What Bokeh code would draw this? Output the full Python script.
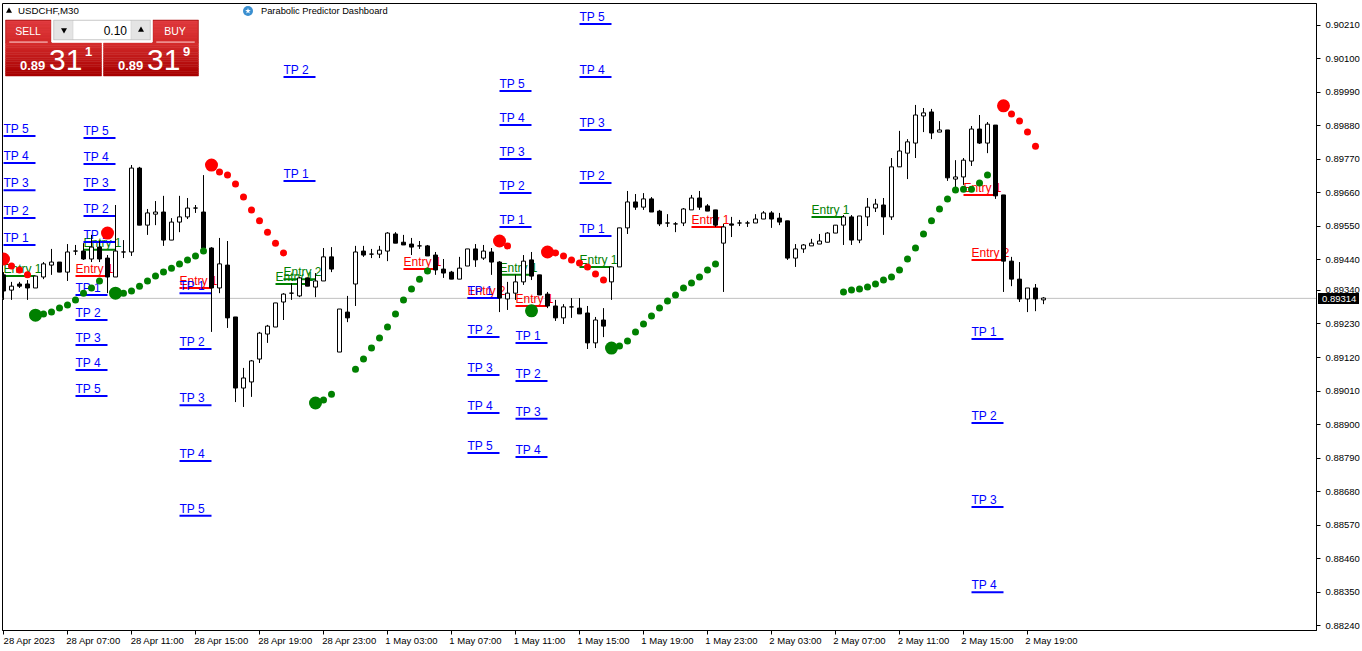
from bokeh.plotting import figure
from bokeh.layouts import column
from bokeh.models import FixedTicker, PrintfTickFormatter, Span, ColumnDataSource, Div
from bokeh.core.properties import value
from bokeh.embed import file_html
from bokeh.resources import INLINE

# Prices are quoted in points (1e-5)
opens = [89391,89341,89361,89361,89348,89384,89423,89433,89400,89469,89469,89443,89482,89446,89384,89466,89466,89741,89554,89590,
89597,89505,89564,89581,89610,89597,89479,89348,89423,89253,89020,89040,89115,89197,89220,89302,89331,89322,89381,89351,
89371,89450,89138,89269,89361,89469,89459,89459,89469,89525,89498,89492,89486,89486,89456,89410,89400,89377,89420,89476,
89446,89466,89433,89312,89331,89368,89440,89391,89328,89289,89250,89286,89282,89266,89168,89243,89368,89417,89545,89630,
89613,89640,89600,89561,89558,89561,89604,89643,89617,89604,89495,89558,89561,89561,89561,89574,89594,89577,89568,89446,
89476,89486,89492,89498,89528,89554,89581,89505,89581,89610,89620,89581,89745,89790,89823,89912,89925,89859,89866,89705,
89712,89764,89869,89823,89882,89653,89436,89377,89312,89348,89309]
highs = [89400,89368,89368,89374,89387,89433,89476,89433,89492,89489,89495,89522,89502,89456,89620,89505,89751,89745,89607,89633,
89650,89577,89650,89643,89620,89718,89482,89512,89502,89253,89086,89112,89204,89227,89299,89331,89364,89384,89381,89397,
89479,89482,89279,89322,89486,89486,89476,89486,89531,89531,89522,89512,89502,89489,89466,89443,89404,89450,89476,89492,
89489,89479,89436,89368,89391,89456,89466,89391,89335,89309,89295,89315,89315,89289,89253,89282,89417,89545,89666,89656,
89659,89646,89604,89590,89564,89610,89653,89666,89623,89604,89558,89581,89571,89568,89590,89600,89600,89594,89568,89492,
89492,89509,89525,89531,89554,89587,89587,89584,89643,89640,89643,89774,89863,89836,89948,89938,89935,89895,89866,89767,
89774,89879,89915,89892,89882,89653,89450,89433,89348,89361,89318]
lows = [89309,89309,89348,89309,89348,89377,89391,89400,89371,89456,89440,89433,89433,89331,89384,89446,89453,89554,89522,89554,
89486,89505,89531,89574,89594,89479,89204,89331,89217,88974,88958,88991,89102,89168,89220,89243,89309,89318,89354,89318,
89371,89400,89138,89236,89289,89450,89446,89446,89436,89495,89489,89456,89476,89453,89391,89381,89377,89377,89420,89417,
89440,89391,89269,89276,89309,89358,89374,89325,89282,89240,89230,89250,89263,89148,89151,89187,89309,89417,89525,89604,
89604,89597,89551,89548,89531,89551,89604,89604,89600,89548,89335,89515,89551,89548,89561,89574,89545,89554,89440,89417,
89463,89486,89492,89498,89528,89489,89489,89495,89551,89597,89522,89571,89745,89705,89774,89859,89836,89859,89699,89669,
89686,89748,89820,89790,89640,89335,89354,89302,89269,89272,89295]
closes = [89338,89354,89354,89348,89387,89427,89433,89400,89466,89469,89443,89482,89443,89384,89469,89466,89741,89554,89594,89597,
89505,89564,89581,89610,89610,89479,89348,89427,89250,89020,89053,89109,89200,89223,89299,89328,89331,89381,89354,89371,
89450,89410,89279,89250,89466,89456,89459,89472,89528,89495,89489,89482,89486,89453,89407,89397,89377,89413,89476,89440,
89469,89433,89315,89331,89368,89436,89387,89325,89289,89250,89286,89286,89263,89168,89243,89223,89417,89545,89630,89613,
89640,89597,89558,89561,89558,89607,89643,89613,89600,89554,89548,89554,89561,89561,89574,89594,89574,89564,89446,89476,
89489,89495,89502,89528,89554,89581,89505,89584,89613,89623,89581,89745,89797,89827,89915,89922,89856,89866,89709,89712,
89767,89869,89823,89885,89650,89436,89377,89312,89348,89312,89315]

tick_prices = [90210,90100,89990,89880,89770,89660,89550,89440,89340,89230,89120,89010,88900,88790,88680,88570,88460,88350,88240]
time_labels = ["28 Apr 2023","28 Apr 07:00","28 Apr 11:00","28 Apr 15:00","28 Apr 19:00","28 Apr 23:00",
"1 May 03:00","1 May 07:00","1 May 11:00","1 May 15:00","1 May 19:00","1 May 23:00",
"2 May 03:00","2 May 07:00","2 May 11:00","2 May 15:00","2 May 19:00"]
current_price = 89314

green_bar = [5,6,7,8,9,10,11,12,15,16,17,18,19,20,21,22,23,24,25,40,41,44,45,46,47,48,49,50,51,52,53,
77,78,79,80,81,82,83,84,85,86,87,88,89,105,106,107,108,109,110,111,112,113,114,115,116,117,118,119,120,121,122,123]
green_val = [89263,89269,89282,89292,89309,89331,89348,89371,89331,89338,89354,89371,89387,89400,89413,89427,89440,89453,89469,88981,89000,
89082,89115,89151,89184,89220,89263,89309,89345,89377,89404,
89158,89174,89204,89230,89256,89282,89305,89325,89348,89364,89384,89407,89427,
89335,89341,89345,89351,89361,89374,89384,89407,89443,89479,89525,89568,89607,89640,89669,89672,89672,89692,89718]
green_big_bar = [4,14,39,66,76]
green_big_val = [89259,89331,88971,89273,89151]
red_bar = [1,2,3,27,28,29,30,31,32,33,34,35,63,69,70,71,72,73,74,75,126,127,128,129]
red_val = [89420,89407,89391,89728,89718,89689,89646,89604,89568,89531,89495,89463,89486,89463,89453,89440,89430,89417,89394,89374,89918,89895,89859,89813]
red_big_bar = [0,13,26,62,68,125]
red_big_val = [89443,89528,89751,89502,89466,89945]

tp_bar = [0,0,0,0,0, 10,10,10,10,10, 9,9,9,9,9, 22,22,22,22,22, 35,35, 62,62,62,62,62, 58,58,58,58,58, 64,64,64,64, 72,72,72,72,72, 121,121,121,121]
tp_val = [89846,89758,89668,89577,89489, 89840,89754,89669,89584,89499, 89325,89243,89161,89079,88994,
89331,89148,88964,88781,88601, 90040,89699, 89994,89882,89771,89659,89548, 89315,89187,89063,88938,88807,
89168,89043,88919,88794, 90213,90040,89866,89692,89518, 89181,88905,88630,88351]
tp_text = ["TP 5","TP 4","TP 3","TP 2","TP 1", "TP 5","TP 4","TP 3","TP 2","TP 1", "TP 1","TP 2","TP 3","TP 4","TP 5",
"TP 1","TP 2","TP 3","TP 4","TP 5", "TP 2","TP 1", "TP 5","TP 4","TP 3","TP 2","TP 1", "TP 1","TP 2","TP 3","TP 4","TP 5",
"TP 1","TP 2","TP 3","TP 4", "TP 5","TP 4","TP 3","TP 2","TP 1", "TP 1","TP 2","TP 3","TP 4"]

buy_entry_bar = [0,10,35,34,62,72,101]
buy_entry_val = [89387,89473,89377,89361,89391,89417,89581]
buy_entry_text = ["Entry 1","Entry 1","Entry 2","Entry 1","Entry 1","Entry 1","Entry 1"]
sell_entry_bar = [9,22,50,58,64,86,120,121]
sell_entry_val = [89387,89348,89410,89315,89289,89548,89653,89440]
sell_entry_text = ["Entry 1","Entry 1","Entry 1","Entry 2","Entry 1","Entry 1","Entry 1","Entry 2"]

P = 1e-5
LABEL_SPAN = 4      # each level line covers four bars

def px_x(x):        # page pixel -> bar position (chrome only)
    return (x - 3.5) / 8
def px_y(y):        # page pixel -> price (chrome only)
    return 0.90292 - y * 3.278e-5

p = figure(frame_width=1314, frame_height=627, output_backend="svg", toolbar_location=None,
           x_range=(px_x(2.5), px_x(1316.5)), y_range=(px_y(630.5), px_y(3.5)),
           y_axis_location="right", min_border_left=2, min_border_top=3,
           min_border_right=45, min_border_bottom=20, background_fill_color="white",
           border_fill_color="white", outline_line_color="black", outline_line_width=1)
p.grid.visible = False

AX = "Liberation Sans"
p.yaxis.ticker = FixedTicker(ticks=[t * P for t in tick_prices])
p.yaxis.formatter = PrintfTickFormatter(format="%.5f")
p.yaxis.major_label_text_font = AX
p.yaxis.major_label_text_font_size = "9.5px"
p.yaxis.major_label_text_color = "black"
p.yaxis.major_tick_in = 0
p.yaxis.major_tick_out = 4
p.yaxis.minor_tick_line_color = None
p.yaxis.major_label_standoff = 5
p.yaxis.axis_line_color = "black"

tick_bars = [8 * i for i in range(len(time_labels))]
label_ticks = [b + (3.25 if t.startswith("28") else 3.0) for b, t in zip(tick_bars, time_labels)]
p.xaxis.ticker = FixedTicker(ticks=label_ticks, minor_ticks=tick_bars)
p.xaxis.major_label_overrides = dict(zip(label_ticks, time_labels))
p.xaxis.major_label_text_font = AX
p.xaxis.major_label_text_font_size = "9.5px"
p.xaxis.major_label_text_color = "black"
p.xaxis.major_tick_line_color = None
p.xaxis.major_tick_in = 0
p.xaxis.major_tick_out = 0
p.xaxis.minor_tick_in = 0
p.xaxis.minor_tick_out = 4
p.xaxis.minor_tick_line_color = "black"
p.xaxis.major_label_standoff = 0
p.xaxis.axis_line_color = "black"

p.add_layout(Span(location=current_price * P, dimension="width", line_color="#c0c0c0", line_width=1, level="underlay"))

def levels(bars, vals, texts, color):
    src = ColumnDataSource(dict(x0=bars, x1=[b + LABEL_SPAN for b in bars], y=[v * P for v in vals], t=texts))
    p.segment(x0="x0", x1="x1", y0="y", y1="y", source=src, line_color=color, line_width=2)
    p.text(x="x0", y="y", text="t", source=src, text_color=color, text_font=value("Liberation Sans"),
           text_font_size="12px", text_baseline="alphabetic", x_offset=0, y_offset=-7)

levels(sell_entry_bar, sell_entry_val, sell_entry_text, "#ff0000")
levels(buy_entry_bar, buy_entry_val, buy_entry_text, "#008000")
levels(tp_bar, tp_val, tp_text, "#0000ff")

idx = list(range(len(opens)))
p.segment(x0=idx, x1=idx, y0=[v * P for v in lows], y1=[v * P for v in highs], line_color="black", line_width=1)
ups = [i for i in idx if closes[i] >= opens[i]]
dns = [i for i in idx if closes[i] < opens[i]]
p.vbar(x=ups, width=0.5, bottom=[opens[i] * P for i in ups], top=[closes[i] * P for i in ups],
       fill_color="white", line_color="black", line_width=1)
p.vbar(x=dns, width=0.5, bottom=[closes[i] * P for i in dns], top=[opens[i] * P for i in dns],
       fill_color="black", line_color="black", line_width=1)

p.scatter(x=green_bar, y=[v * P for v in green_val], size=7, marker="circle", fill_color="#008000", line_color=None)
p.scatter(x=green_big_bar, y=[v * P for v in green_big_val], size=13, marker="circle", fill_color="#008000", line_color=None)
p.scatter(x=red_bar, y=[v * P for v in red_val], size=7, marker="circle", fill_color="#ff0000", line_color=None)
p.scatter(x=red_big_bar, y=[v * P for v in red_big_val], size=13, marker="circle", fill_color="#ff0000", line_color=None)

# ---- terminal chrome: header and one-click trading panel ----
def box(x0, y0, x1, y1, color):
    p.quad(left=[px_x(x0 - .5)], right=[px_x(x1 - .5)], top=[px_y(y0)], bottom=[px_y(y1)], fill_color=color, line_color=color, line_width=0.5)
def grad(x0, y0, x1, y1, c0, c1, n=14):
    for i in range(n):
        a = i / (n - 1)
        c = tuple(int(c0[j] + (c1[j] - c0[j]) * a) for j in range(3))
        box(x0, y0 + (y1 - y0) * i / n, x1, y0 + (y1 - y0) * (i + 1) / n, "#%02x%02x%02x" % c)
def txt(x, y, s, size, color="black", align="left", style="normal", font="Liberation Sans"):
    p.text(x=[px_x(x)], y=[px_y(y)], text=[s], text_color=color, text_font=value(font), text_font_size=size,
           text_align=align, text_baseline="middle", text_font_style=style)
def tri(x, y, size, kind):
    p.scatter(x=[px_x(x)], y=[px_y(y)], size=size, marker=kind, fill_color="black", line_color=None)

tri(9, 11, 6, "triangle")
txt(18, 10.5, "USDCHF,M30", "9.7px")
p.scatter(x=[px_x(248)], y=[px_y(11)], size=10, marker="circle", fill_color="#3a8fd0", line_color=None)
p.scatter(x=[px_x(248)], y=[px_y(11)], size=6, marker="star", fill_color="white", line_color=None)
txt(261, 10.5, "Parabolic Predictor Dashboard", "9.3px")

EDGE, LIGHT, MID, DARK = "#b01818", (226, 60, 64), (212, 44, 44), (168, 0, 0)
box(6, 20, 52, 43, EDGE)
box(153, 20, 199, 43, EDGE)
grad(7, 21, 51, 43, LIGHT, MID)
grad(154, 21, 198, 43, LIGHT, MID)
grad(6, 43, 102, 76, MID, DARK)
grad(104, 43, 199, 76, MID, DARK)
box(10, 41.7, 48, 42.4, "#f4b0b0")
box(157, 41.7, 195, 42.4, "#f4b0b0")
box(52, 19, 153, 42, "white")
box(54, 20, 151, 40, "#c8c8c8")
box(55, 21, 73, 39, "#e4e4e4")
box(74, 21, 131, 39, "white")
box(132, 21, 150, 39, "#e4e4e4")
tri(64, 30, 6, "inverted_triangle")
tri(141, 30, 6, "triangle")
txt(127, 30, "0.10", "12px", align="right")
txt(28, 31, "SELL", "10.5px", "white", "center")
txt(175, 31, "BUY", "10.5px", "white", "center")
txt(20, 65, "0.89", "13px", "white", style="bold")
txt(49, 59.5, "31", "30px", "white")
txt(85, 51, "1", "13px", "white", style="bold")
txt(118, 65, "0.89", "13px", "white", style="bold")
txt(147, 59.5, "31", "30px", "white")
txt(183, 51, "9", "13px", "white", style="bold")

# black current-price tag lying over the price axis
tag = Div(text="%.5f" % (current_price * P), width=41, height=11, margin=0,
          styles={"position": "absolute", "left": "1318px", "top": "293px", "z-index": "10",
                  "background-color": "black", "color": "white", "font-family": "Liberation Sans",
                  "font-size": "9.5px", "line-height": "11px", "padding-left": "4px", "box-sizing": "border-box"})

layout = column(p, tag, spacing=0)
open("out.html", "w").write(file_html(layout, INLINE))
